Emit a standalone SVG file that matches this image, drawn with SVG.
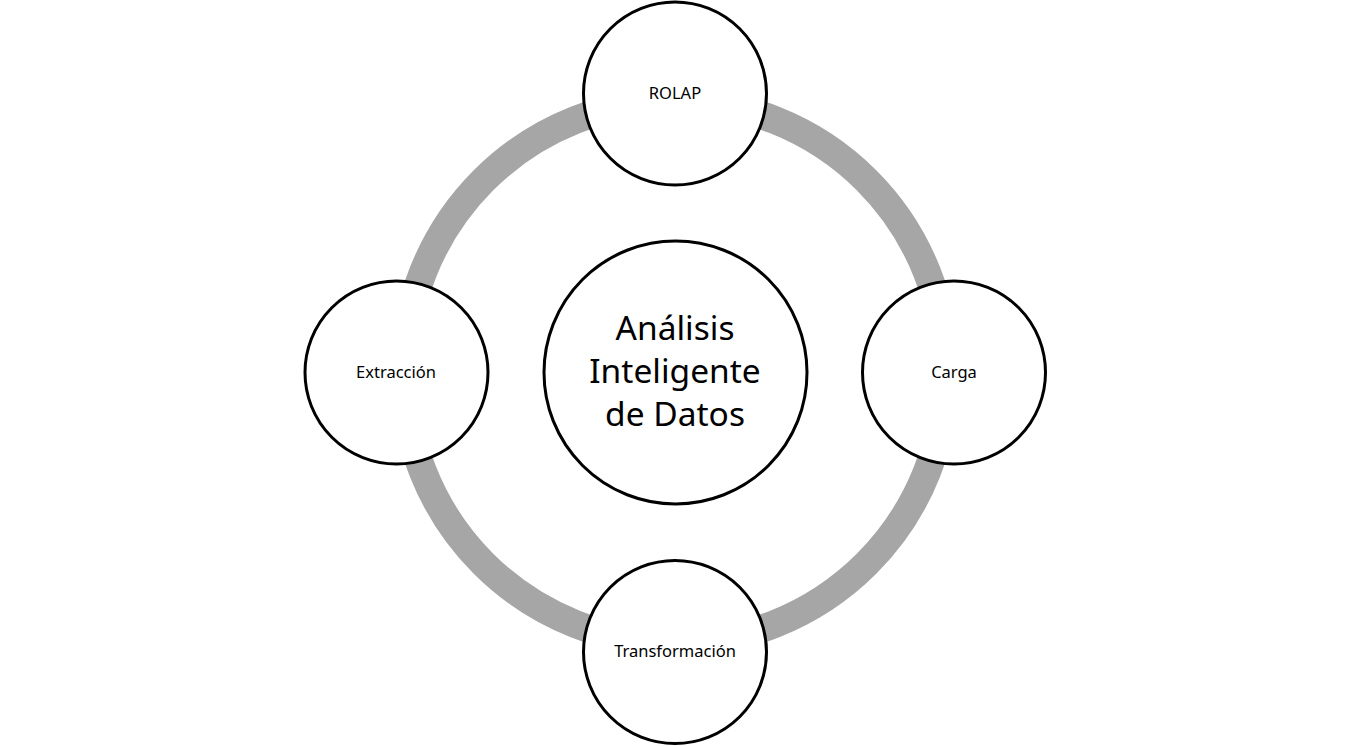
<svg xmlns="http://www.w3.org/2000/svg" width="1350" height="746" viewBox="0 0 1350 746">
<style>
.node{fill:#fff;stroke:#000;stroke-width:3}
.lbl{font-family:"Noto Sans","Open Sans",sans-serif;font-size:16.5px;fill:#000;text-anchor:middle}
.big{font-family:"Noto Sans","Open Sans",sans-serif;font-size:33.5px;fill:#000;text-anchor:middle}
</style>
<rect width="1350" height="746" fill="#fff"/>
<g id="connectors">
<circle cx="675" cy="372" r="271" fill="none" stroke="#a6a6a6" stroke-width="28"/>
</g>
<g id="center">
<circle class="node" cx="675.5" cy="372.5" r="131.5"/>
<text class="big" x="675" y="340">Análisis</text>
<text class="big" x="675" y="383">Inteligente</text>
<text class="big" x="675" y="426">de Datos</text>
</g>
<g id="rolap">
<circle class="node" cx="675" cy="93.5" r="91.5"/>
<text class="lbl" x="675" y="99">ROLAP</text>
</g>
<g id="carga">
<circle class="node" cx="954" cy="372.5" r="91.5"/>
<text class="lbl" x="954" y="378">Carga</text>
</g>
<g id="transformacion">
<circle class="node" cx="675" cy="652" r="91.5"/>
<text class="lbl" x="675" y="657">Transformación</text>
</g>
<g id="extraccion">
<circle class="node" cx="396.5" cy="372.5" r="91.5"/>
<text class="lbl" x="396" y="378">Extracción</text>
</g>
</svg>
